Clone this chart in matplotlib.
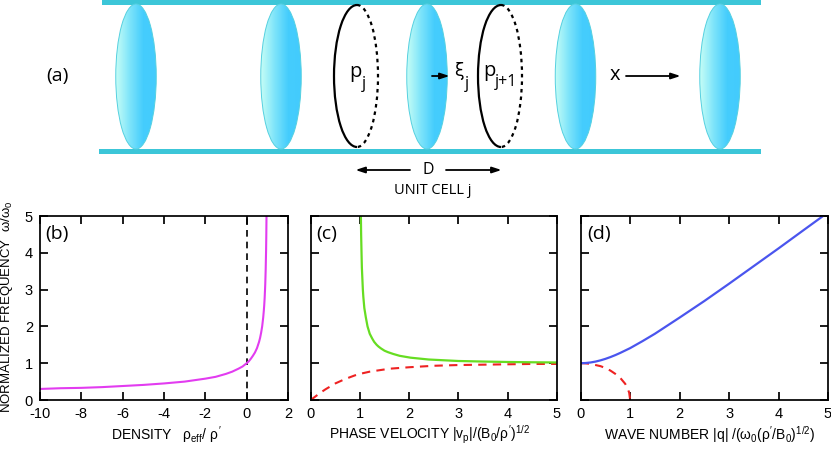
import numpy as np
import matplotlib
matplotlib.use('Agg')
import matplotlib.pyplot as plt
from matplotlib.patches import Ellipse, Arc, Rectangle
from matplotlib.colors import LinearSegmentedColormap

plt.rcParams['font.family'] = 'Liberation Sans'
plt.rcParams['axes.unicode_minus'] = False
plt.rcParams['mathtext.fontset'] = 'custom'
plt.rcParams['mathtext.rm'] = 'Liberation Sans'
plt.rcParams['mathtext.it'] = 'Liberation Sans'
plt.rcParams['mathtext.bf'] = 'Liberation Sans'

# panel (b)
b_density = [-10, -9, -8, -7, -6, -5, -4, -3, -2, -1.5, -1, -0.7, -0.4, -0.2, 0, 0.1, 0.2, 0.3, 0.4, 0.5,
             0.6, 0.65, 0.7, 0.75, 0.8, 0.83, 0.85, 0.87, 0.89, 0.9, 0.92, 0.94, 0.95, 0.96]
b_freq = [0.30, 0.32, 0.33, 0.35, 0.38, 0.41, 0.45, 0.50, 0.58, 0.63, 0.71, 0.77, 0.85, 0.91, 1.0, 1.05, 1.12,
          1.2, 1.29, 1.41, 1.58, 1.69, 1.83, 2.0, 2.24, 2.43, 2.58, 2.77, 3.02, 3.16, 3.54, 4.08, 4.47, 5.0]
# panel (c)
c_green_v = [1.02, 1.025, 1.033, 1.04, 1.06, 1.07, 1.09, 1.12, 1.155, 1.2, 1.25, 1.29, 1.34, 1.38, 1.43, 1.5,
             1.57, 1.68, 1.81, 2.03, 2.4, 3.0, 3.5, 4.0, 4.5, 5.0]
c_green_w = [5.0, 4.5, 4.0, 3.6, 3.0, 2.8, 2.5, 2.25, 2.0, 1.8, 1.67, 1.58, 1.5, 1.45, 1.4, 1.34,
             1.3, 1.25, 1.2, 1.15, 1.1, 1.06, 1.045, 1.033, 1.025, 1.02]
c_red_v = [0, 0.1, 0.2, 0.3, 0.4, 0.5, 0.6, 0.7, 0.8, 0.9, 1.0, 1.2, 1.4, 1.6, 1.8, 2.0, 2.5, 3.0, 3.5, 4.0, 4.5, 5.0]
c_red_w = [0, 0.10, 0.20, 0.29, 0.37, 0.45, 0.51, 0.57, 0.62, 0.67, 0.71, 0.77, 0.81, 0.85, 0.87, 0.89, 0.93, 0.95, 0.96, 0.97, 0.98, 0.98]
# panel (d)
d_blue_q = [0, 0.1, 0.2, 0.3, 0.4, 0.5, 0.6, 0.7, 0.8, 0.9, 1.0, 1.25, 1.5, 1.75, 2.0, 2.5, 3.0, 3.5, 4.0, 4.5, 4.9]
d_blue_w = [1.0, 1.005, 1.02, 1.044, 1.077, 1.118, 1.166, 1.22, 1.28, 1.345, 1.41, 1.60, 1.80, 2.02, 2.24, 2.69, 3.16, 3.64, 4.12, 4.61, 5.0]
d_red_q = [0, 0.1, 0.2, 0.3, 0.4, 0.5, 0.6, 0.7, 0.8, 0.9, 0.95, 0.98, 1.0]
d_red_w = [1.0, 0.995, 0.98, 0.95, 0.92, 0.87, 0.80, 0.71, 0.60, 0.44, 0.31, 0.2, 0.0]

y_ticks = [0, 1, 2, 3, 4, 5]
b_ticks = [-10, -8, -6, -4, -2, 0, 2]
cd_ticks = [0, 1, 2, 3, 4, 5]

W, H = 831, 449
fig = plt.figure(figsize=(W / 100, H / 100), dpi=100)
px = 0.72

# Diagram overlay in pixel coordinates
ov = fig.add_axes([0, 0, 1, 1])
ov.set_xlim(0, W)
ov.set_ylim(H, 0)
ov.axis('off')

BAR = '#3cc6d8'
ov.add_patch(Rectangle((102, 0), 659, 4.5, fc=BAR, ec='none'))
ov.add_patch(Rectangle((99, 149), 662, 4.5, fc=BAR, ec='none'))

cmap = LinearSegmentedColormap.from_list('lens', ['#c4fdf6', '#7ee4fa', '#45cdfd', '#43cbfd'])
grad = np.linspace(0, 1, 64).reshape(1, -1)
lens_x = [136, 281, 427, 575.5, 720]
for cx in lens_x:
    im = ov.imshow(grad, extent=(cx - 20.5, cx + 20.5, 149, 4), cmap=cmap, aspect='auto', zorder=2)
    e = Ellipse((cx, 76.5), 40.5, 145, fc='none', ec='#55d0e0', lw=0.7, zorder=3)
    ov.add_patch(e)
    im.set_clip_path(e)
ov.set_xlim(0, W)
ov.set_ylim(H, 0)

for cx, l, r in [(357, 334, 378), (501, 478, 522)]:
    ov.add_patch(Arc((cx, 76), 2 * (cx - l), 142, theta1=90, theta2=270, ec='black', lw=1.6, zorder=4))
    ov.add_patch(Arc((cx, 76), 2 * (r - cx), 142, theta1=-90, theta2=90, ec='black', lw=1.6,
                     ls=(0, (1.6, 1.8)), zorder=4))


def arrow(x0, x1, y):
    ov.annotate('', xy=(x1, y), xytext=(x0, y), zorder=5,
                arrowprops=dict(arrowstyle='-|>,head_length=0.55,head_width=0.18', lw=1.3, color='black',
                                shrinkA=0, shrinkB=0))


arrow(410, 355.5, 170)
arrow(446, 501.5, 170)
arrow(432, 449.5, 76)
arrow(626, 680.5, 76)

DF = 'Open Sans'
ov.text(57, 76, '(a)', family=DF, fontsize=14, ha='center', va='center')
ov.text(349.5, 72, 'p', family=DF, fontsize=14.5, ha='left', va='center', zorder=6)
ov.text(361.5, 84, 'j', family=DF, fontsize=11.5, ha='left', va='center', zorder=6)
ov.text(454, 71, 'ξ', family='DejaVu Sans', fontsize=12.5, ha='left', va='center', zorder=6)
ov.text(465, 84, 'j', family=DF, fontsize=11.5, ha='left', va='center', zorder=6)
ov.text(483.5, 71, 'p', family=DF, fontsize=14.5, ha='left', va='center', zorder=6)
ov.text(494.5, 82, 'j+1', family=DF, fontsize=11.5, ha='left', va='center', zorder=6)
ov.text(615, 75, 'x', family=DF, fontsize=14.5, ha='center', va='center', zorder=6)
ov.text(428.5, 170, 'D', family=DF, fontsize=11.5, ha='center', va='center', zorder=6)
ov.text(432.5, 190, 'UNIT CELL j', family=DF, fontsize=10.5, ha='center', va='center', zorder=6)

ov.text(7.5, 307, r"NORMALIZED FREQUENCY  $\omega/\omega_0$", rotation=90, fontsize=9.5, ha='center', va='center')
ov.text(166, 435, r"DENSITY   $\rho_{\mathrm{eff}}/\ \rho'$", fontsize=10, ha='center', va='center')
ov.text(430, 435, r"PHASE VELOCITY $|v_p|/(B_0/\rho')^{1/2}$", fontsize=10, ha='center', va='center')
ov.text(710, 435, r"WAVE NUMBER $|q|\ /(\omega_0(\rho'/B_0)^{1/2})$", fontsize=10, ha='center', va='center')


def panel(left, right, xlim, xticks, tag, tagx, show_y=False):
    ax = fig.add_axes([left / W, 1 - 400 / H, (right - left) / W, 184 / H])
    ax.set_xlim(*xlim)
    ax.set_ylim(0, 5)
    ax.set_xticks(xticks)
    ax.set_yticks(y_ticks)
    ax.tick_params(direction='in', top=True, right=True, length=8 * px, width=1.25,
                   labelsize=10.5, labelleft=show_y, pad=5)
    for s in ax.spines.values():
        s.set_linewidth(1.25)
    ax.patch.set_alpha(0)
    ov.text(tagx, 234, tag, family=DF, fontsize=14, ha='center', va='center')
    return ax


axb = panel(40, 288, (-10, 2), b_ticks, '(b)', 57, show_y=True)
axb.axvline(0, color='black', lw=1.2, ls=(0, (4, 3)))
axb.plot(b_density, b_freq, color='#e23cf0', lw=1.5)

axc = panel(310.7, 556.7, (0, 5), cd_ticks, '(c)', 327)
axc.plot(c_red_v, c_red_w, color='#ee2222', lw=1.5, ls=(0, (4, 3)))
axc.plot(c_green_v, c_green_w, color='#66dd22', lw=1.6)

axd = panel(580.7, 828, (0, 5), cd_ticks, '(d)', 599)
axd.plot(d_red_q, d_red_w, color='#ee2222', lw=1.5, ls=(0, (4, 3)))
axd.plot(d_blue_q, d_blue_w, color='#4a55ee', lw=1.6)

fig.savefig('out.png', dpi=100)
